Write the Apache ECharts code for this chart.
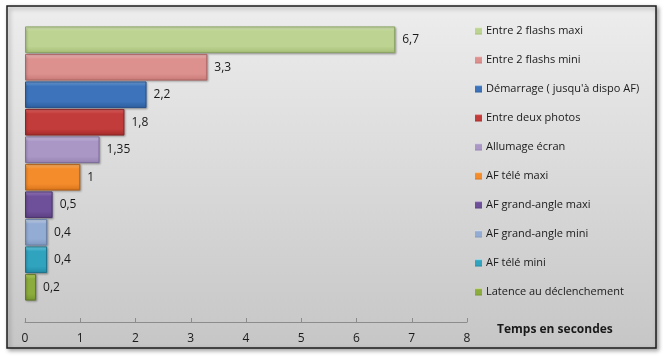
<!DOCTYPE html>
<html><head><meta charset="utf-8">
<script src="https://cdn.jsdelivr.net/npm/echarts@6/dist/echarts.min.js"></script>
<style>html,body{margin:0;padding:0;background:#fff}#c{width:663px;height:356px}</style>
</head><body><div id="c"></div>
<script>
var seriesNames = ["Entre 2 flashs maxi","Entre 2 flashs mini","Démarrage ( jusqu'à dispo AF)","Entre deux photos","Allumage écran","AF télé maxi","AF grand-angle maxi","AF grand-angle mini","AF télé mini","Latence au déclenchement"];
var values = [6.7, 3.3, 2.2, 1.8, 1.35, 1, 0.5, 0.4, 0.4, 0.2];
var xTicks = [0,1,2,3,4,5,6,7,8];
var axisTitle = "Temps en secondes";
// [top highlight, base, bottom dark, border]
var palette = [
 ["#dcebbd","#bcd391","#a3bd74","#8aa463"],
 ["#f4c4c3","#dc918f","#c77977","#ad6462"],
 ["#77a6e0","#3d73ba","#2d5e9e","#27508a"],
 ["#e86a69","#c23c3b","#a52b2b","#8a2525"],
 ["#d5c8ea","#aa97c6","#9683b3","#7d6c99"],
 ["#ffbb70","#f48c2c","#d8731a","#b06018"],
 ["#a384cc","#6e4f99","#5b3f82","#4a346b"],
 ["#d2e0f4","#93acd3","#7f97bf","#6a80a6"],
 ["#76dbef","#30a3bf","#218aa5","#1d7189"],
 ["#c3db6a","#8cad3d","#76952f","#607a28"]
];
var cats = seriesNames.map(function(_,i){return 'c'+i;});
var series = seriesNames.map(function(n,i){
  var d = cats.map(function(_,j){ return j===i ? values[i] : '-'; });
  var p = palette[i];
  return {
    name:n, type:'bar', stack:'s', data:d, barWidth:'97%',
    itemStyle:{
      color:{type:'linear',x:0,y:0,x2:0,y2:1,colorStops:[
        {offset:0,color:p[0]},{offset:0.18,color:p[1]},{offset:0.75,color:p[1]},{offset:1,color:p[2]}]},
      borderColor:p[3], borderWidth:1,
      shadowColor:'rgba(0,0,0,0.25)', shadowBlur:2, shadowOffsetX:1, shadowOffsetY:1
    },
    label:{show:true, position:'right', distance:7, color:'#1a1a1a',
      fontFamily:'Open Sans', fontSize:12,
      formatter:function(v){return String(v.value).replace('.',',');}}
  };
});
var chart = echarts.init(document.getElementById('c'));
chart.setOption({
  animation:false,
  backgroundColor:'#ffffff',
  graphic:[
    {type:'rect', z:-10, shape:{x:7,y:6,width:649,height:342},
     style:{fill:{type:'linear',x:0,y:0,x2:0,y2:1,colorStops:[{offset:0,color:'#ededed'},{offset:1,color:'#c6c6c6'}]},
       stroke:'#1e1e1e', lineWidth:1.5, shadowColor:'rgba(0,0,0,0.35)', shadowBlur:4, shadowOffsetX:2, shadowOffsetY:2}},
    {type:'text', z:10, left:497, top:324,
     style:{text:axisTitle, font:'bold 12px "Open Sans"', fill:'#1a1a1a'}}
  ],
  grid:{left:25, right:196, top:26, bottom:55, containLabel:false},
  xAxis:{type:'value', min:xTicks[0], max:xTicks[xTicks.length-1], interval:1, offset:21,
    axisLine:{show:true, lineStyle:{color:'#8c8c8c'}},
    axisTick:{show:true, inside:true, length:4, lineStyle:{color:'#8c8c8c'}},
    splitLine:{show:false},
    axisLabel:{color:'#1a1a1a', fontFamily:'Open Sans', fontSize:12, margin:11}},
  yAxis:{type:'category', data:cats, inverse:true, show:false},
  legend:{orient:'vertical', left:470, top:19, itemWidth:7, itemHeight:7, itemGap:15,
    icon:'rect', data:seriesNames,
    itemStyle:{borderWidth:0, shadowBlur:0, shadowOffsetX:0, shadowOffsetY:0},
    textStyle:{color:'#1a1a1a', fontFamily:'Open Sans', fontSize:11, lineHeight:14, padding:[0,0,0,-1]}},
  series:series
});
</script></body></html>
